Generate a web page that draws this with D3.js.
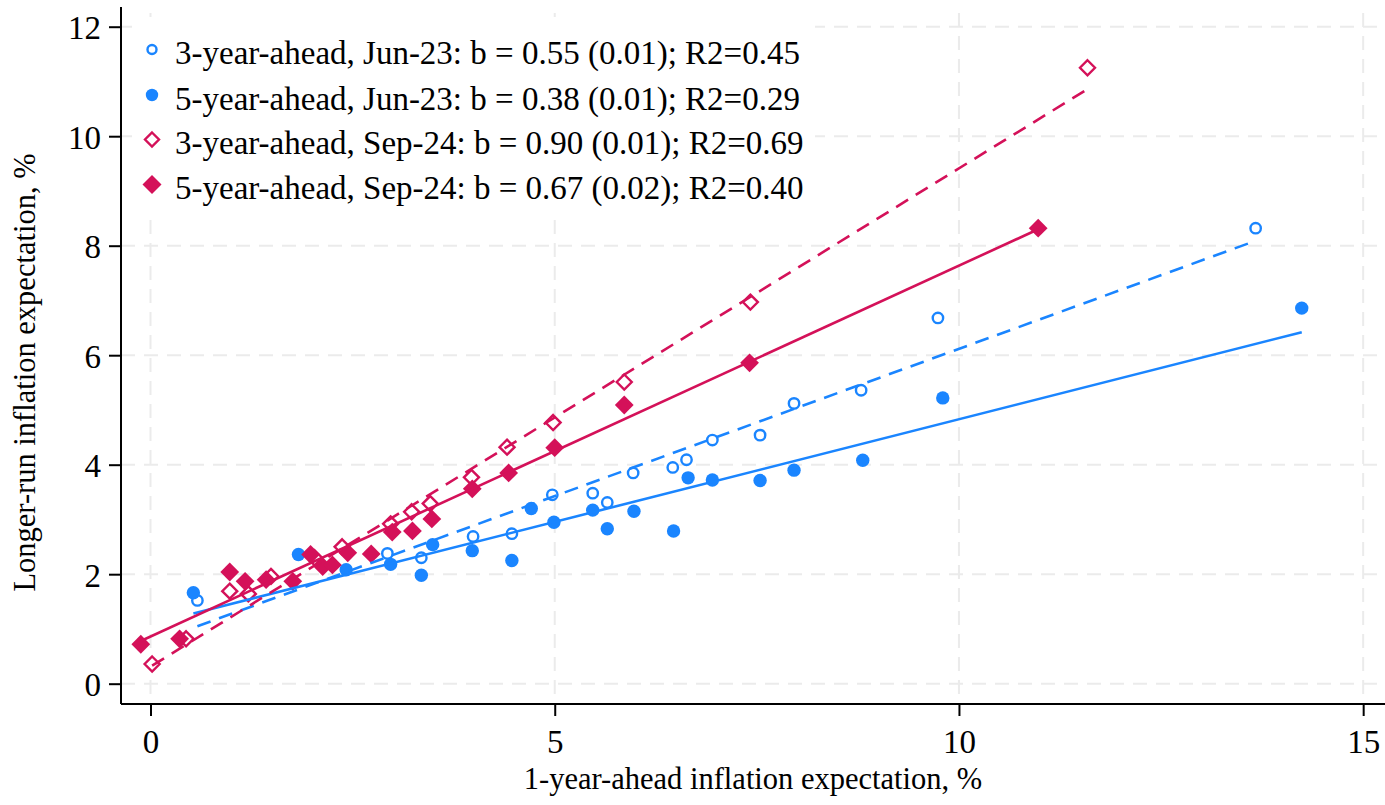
<!DOCTYPE html>
<html>
<head>
<meta charset="utf-8">
<script src="https://cdn.jsdelivr.net/npm/d3@7"></script>
<style>
  html, body { margin: 0; padding: 0; background: #ffffff; }
  svg { display: block; }
  svg text { font-family: "Liberation Serif", "Times New Roman", serif !important; fill: #000; }
</style>
</head>
<body>
<svg id="chart" width="1385" height="805" font-family="Liberation Serif"></svg>
<script>
// ---------------- data ----------------
const xTicks = [0, 5, 10, 15];
const yTicks = [0, 2, 4, 6, 8, 10, 12];
const xTitle = "1-year-ahead inflation expectation, %";
const yTitle = "Longer-run inflation expectation, %";

const seriesNames = [
  "3-year-ahead, Jun-23: b = 0.55 (0.01); R2=0.45",
  "5-year-ahead, Jun-23: b = 0.38 (0.01); R2=0.29",
  "3-year-ahead, Sep-24: b = 0.90 (0.01); R2=0.69",
  "5-year-ahead, Sep-24: b = 0.67 (0.02); R2=0.40"
];

// 3-year-ahead, Jun-23 (open blue circles)
const jun23_3y = [
  [0.58,1.52],[2.93,2.38],[3.35,2.30],[3.99,2.69],[4.47,2.74],[4.97,3.45],
  [5.47,3.48],[5.65,3.31],[5.97,3.85],[6.46,3.95],[6.63,4.09],[6.95,4.45],
  [7.54,4.54],[7.96,5.12],[8.79,5.36],[9.74,6.68],[13.67,8.32]
];
// 5-year-ahead, Jun-23 (filled blue circles)
const jun23_5y = [
  [0.53,1.66],[1.83,2.36],[2.42,2.08],[2.97,2.18],[3.35,1.98],[3.49,2.54],
  [3.98,2.43],[4.47,2.25],[4.71,3.20],[4.99,2.95],[5.47,3.17],[5.65,2.83],
  [5.98,3.15],[6.47,2.79],[6.65,3.76],[6.95,3.72],[7.54,3.71],[7.96,3.90],
  [8.81,4.08],[9.80,5.22],[14.24,6.86]
];
// 3-year-ahead, Sep-24 (open red diamonds)
const sep24_3y = [
  [0.02,0.36],[0.44,0.82],[0.98,1.69],[1.21,1.64],[1.49,1.96],[2.03,2.30],
  [2.37,2.50],[2.97,2.92],[3.23,3.14],[3.46,3.29],[3.97,3.77],[4.41,4.32],
  [4.98,4.77],[5.86,5.51],[7.42,6.97],[11.59,11.25]
];
// 5-year-ahead, Sep-24 (filled red diamonds)
const sep24_5y = [
  [-0.12,0.72],[0.36,0.82],[0.98,2.04],[1.17,1.87],[1.43,1.90],[1.76,1.87],
  [1.98,2.36],[2.13,2.14],[2.25,2.17],[2.44,2.39],[2.73,2.37],[2.99,2.77],
  [3.24,2.79],[3.48,3.01],[3.98,3.56],[4.43,3.85],[5.00,4.31],[5.86,5.09],
  [7.41,5.86],[10.98,8.32]
];

// fitted lines (endpoints)
const fit_jun23_3y = [[0.58,1.05],[13.67,8.09]];
const fit_jun23_5y = [[0.53,1.28],[14.24,6.42]];
const fit_sep24_3y = [[0.02,0.33],[11.59,10.86]];
const fit_sep24_5y = [[-0.12,0.78],[10.98,8.30]];

// ---------------- layout ----------------
const BLUE = "#1a85ff";
const RED = "#d41159";
const FONT = "'Liberation Serif', 'Times New Roman', serif";
const plot = { left: 121, right: 1385, top: 7, bottom: 704 };

const svg = d3.select("#chart");
const x = d3.scaleLinear().domain([-0.365, 15.27]).range([plot.left, plot.right]);
const y = d3.scaleLinear().domain([-0.371, 12.36]).range([plot.bottom, plot.top]);

// gridlines
const grid = svg.append("g");
grid.selectAll("line.hg").data(yTicks).join("line")
  .attr("x1", plot.left).attr("x2", plot.right)
  .attr("y1", d => y(d)).attr("y2", d => y(d))
  .attr("stroke", "#ebebeb").attr("stroke-width", 2).attr("stroke-dasharray", "14,9");
grid.selectAll("line.vg").data(xTicks).join("line")
  .attr("x1", d => x(d)).attr("x2", d => x(d))
  .attr("y1", plot.top + 6).attr("y2", plot.bottom)
  .attr("stroke", "#ebebeb").attr("stroke-width", 2).attr("stroke-dasharray", "14,9");

// axes
const xAxis = d3.axisBottom(x).tickValues(xTicks).tickSize(12).tickPadding(14).tickFormat(d3.format("d"));
const yAxis = d3.axisLeft(y).tickValues(yTicks).tickSize(12).tickPadding(8).tickFormat(d3.format("d"));

const gx = svg.append("g").attr("transform", `translate(0,${plot.bottom})`).call(xAxis);
const gy = svg.append("g").attr("transform", `translate(${plot.left},0)`).call(yAxis);
[gx, gy].forEach(g => {
  g.attr("font-family", null).attr("font-size", null);
  g.select(".domain").remove();
  g.selectAll(".tick line").attr("stroke", "#000").attr("stroke-width", 2);
  g.selectAll(".tick text").style("font-family", FONT).style("font-size", "33px").attr("fill", "#000");
});
gy.selectAll(".tick text").attr("dy", "0.36em");
// axis lines
svg.append("line").attr("x1", plot.left).attr("x2", plot.right)
  .attr("y1", plot.bottom).attr("y2", plot.bottom).attr("stroke", "#000").attr("stroke-width", 2);
svg.append("line").attr("x1", plot.left).attr("x2", plot.left)
  .attr("y1", plot.top).attr("y2", plot.bottom).attr("stroke", "#000").attr("stroke-width", 2);

// axis titles
svg.append("text").attr("x", (plot.left + plot.right) / 2).attr("y", 789)
  .attr("text-anchor", "middle").style("font-family", FONT).style("font-size", "30.5px").text(xTitle);
svg.append("text").attr("transform", `translate(35,${(plot.top + plot.bottom) / 2 + 17}) rotate(-90)`)
  .attr("text-anchor", "middle").style("font-family", FONT).style("font-size", "30.5px").text(yTitle);

// markers
const diamond = r => `M0,${-r}L${r},0L0,${r}L${-r},0Z`;
const pts = svg.append("g");

pts.selectAll("circle.a").data(jun23_3y).join("circle")
  .attr("cx", d => x(d[0])).attr("cy", d => y(d[1])).attr("r", 5.2)
  .attr("fill", "#fff").attr("stroke", BLUE).attr("stroke-width", 2.4);
pts.selectAll("circle.b").data(jun23_5y).join("circle")
  .attr("cx", d => x(d[0])).attr("cy", d => y(d[1])).attr("r", 6.7)
  .attr("fill", BLUE);
pts.selectAll("path.c").data(sep24_3y).join("path")
  .attr("transform", d => `translate(${x(d[0])},${y(d[1])})`).attr("d", diamond(7.5))
  .attr("fill", "#fff").attr("stroke", RED).attr("stroke-width", 2.4);
pts.selectAll("path.d").data(sep24_5y).join("path")
  .attr("transform", d => `translate(${x(d[0])},${y(d[1])})`).attr("d", diamond(9.4))
  .attr("fill", RED);

// fit lines
const line = d3.line().x(d => x(d[0])).y(d => y(d[1]));
const fits = [
  { data: fit_jun23_3y, color: BLUE, dash: "14,9" },
  { data: fit_jun23_5y, color: BLUE, dash: null },
  { data: fit_sep24_3y, color: RED, dash: "14,9" },
  { data: fit_sep24_5y, color: RED, dash: null }
];
svg.append("g").selectAll("path").data(fits).join("path")
  .attr("d", d => line(d.data)).attr("fill", "none")
  .attr("stroke", d => d.color).attr("stroke-width", 2.6)
  .attr("stroke-dasharray", d => d.dash);

// legend
const lg = svg.append("g");
lg.append("rect").attr("x", 132).attr("y", 17).attr("width", 683).attr("height", 195).attr("fill", "#fff");
const rowsY = [49.5, 95, 139.5, 184.5];
const lx = 152;
lg.append("circle").attr("cx", lx).attr("cy", rowsY[0]).attr("r", 4.5)
  .attr("fill", "#fff").attr("stroke", BLUE).attr("stroke-width", 2.4);
lg.append("circle").attr("cx", lx).attr("cy", rowsY[1]).attr("r", 6.2).attr("fill", BLUE);
lg.append("path").attr("transform", `translate(${lx},${rowsY[2]})`).attr("d", diamond(7))
  .attr("fill", "#fff").attr("stroke", RED).attr("stroke-width", 2.4);
lg.append("path").attr("transform", `translate(${lx},${rowsY[3]})`).attr("d", diamond(9.5))
  .attr("fill", RED);
lg.selectAll("text").data(seriesNames).join("text")
  .attr("x", 175).attr("y", (d, i) => rowsY[i] + 14.5)
  .style("font-family", FONT).style("font-size", "33px").text(d => d);
</script>
</body>
</html>
